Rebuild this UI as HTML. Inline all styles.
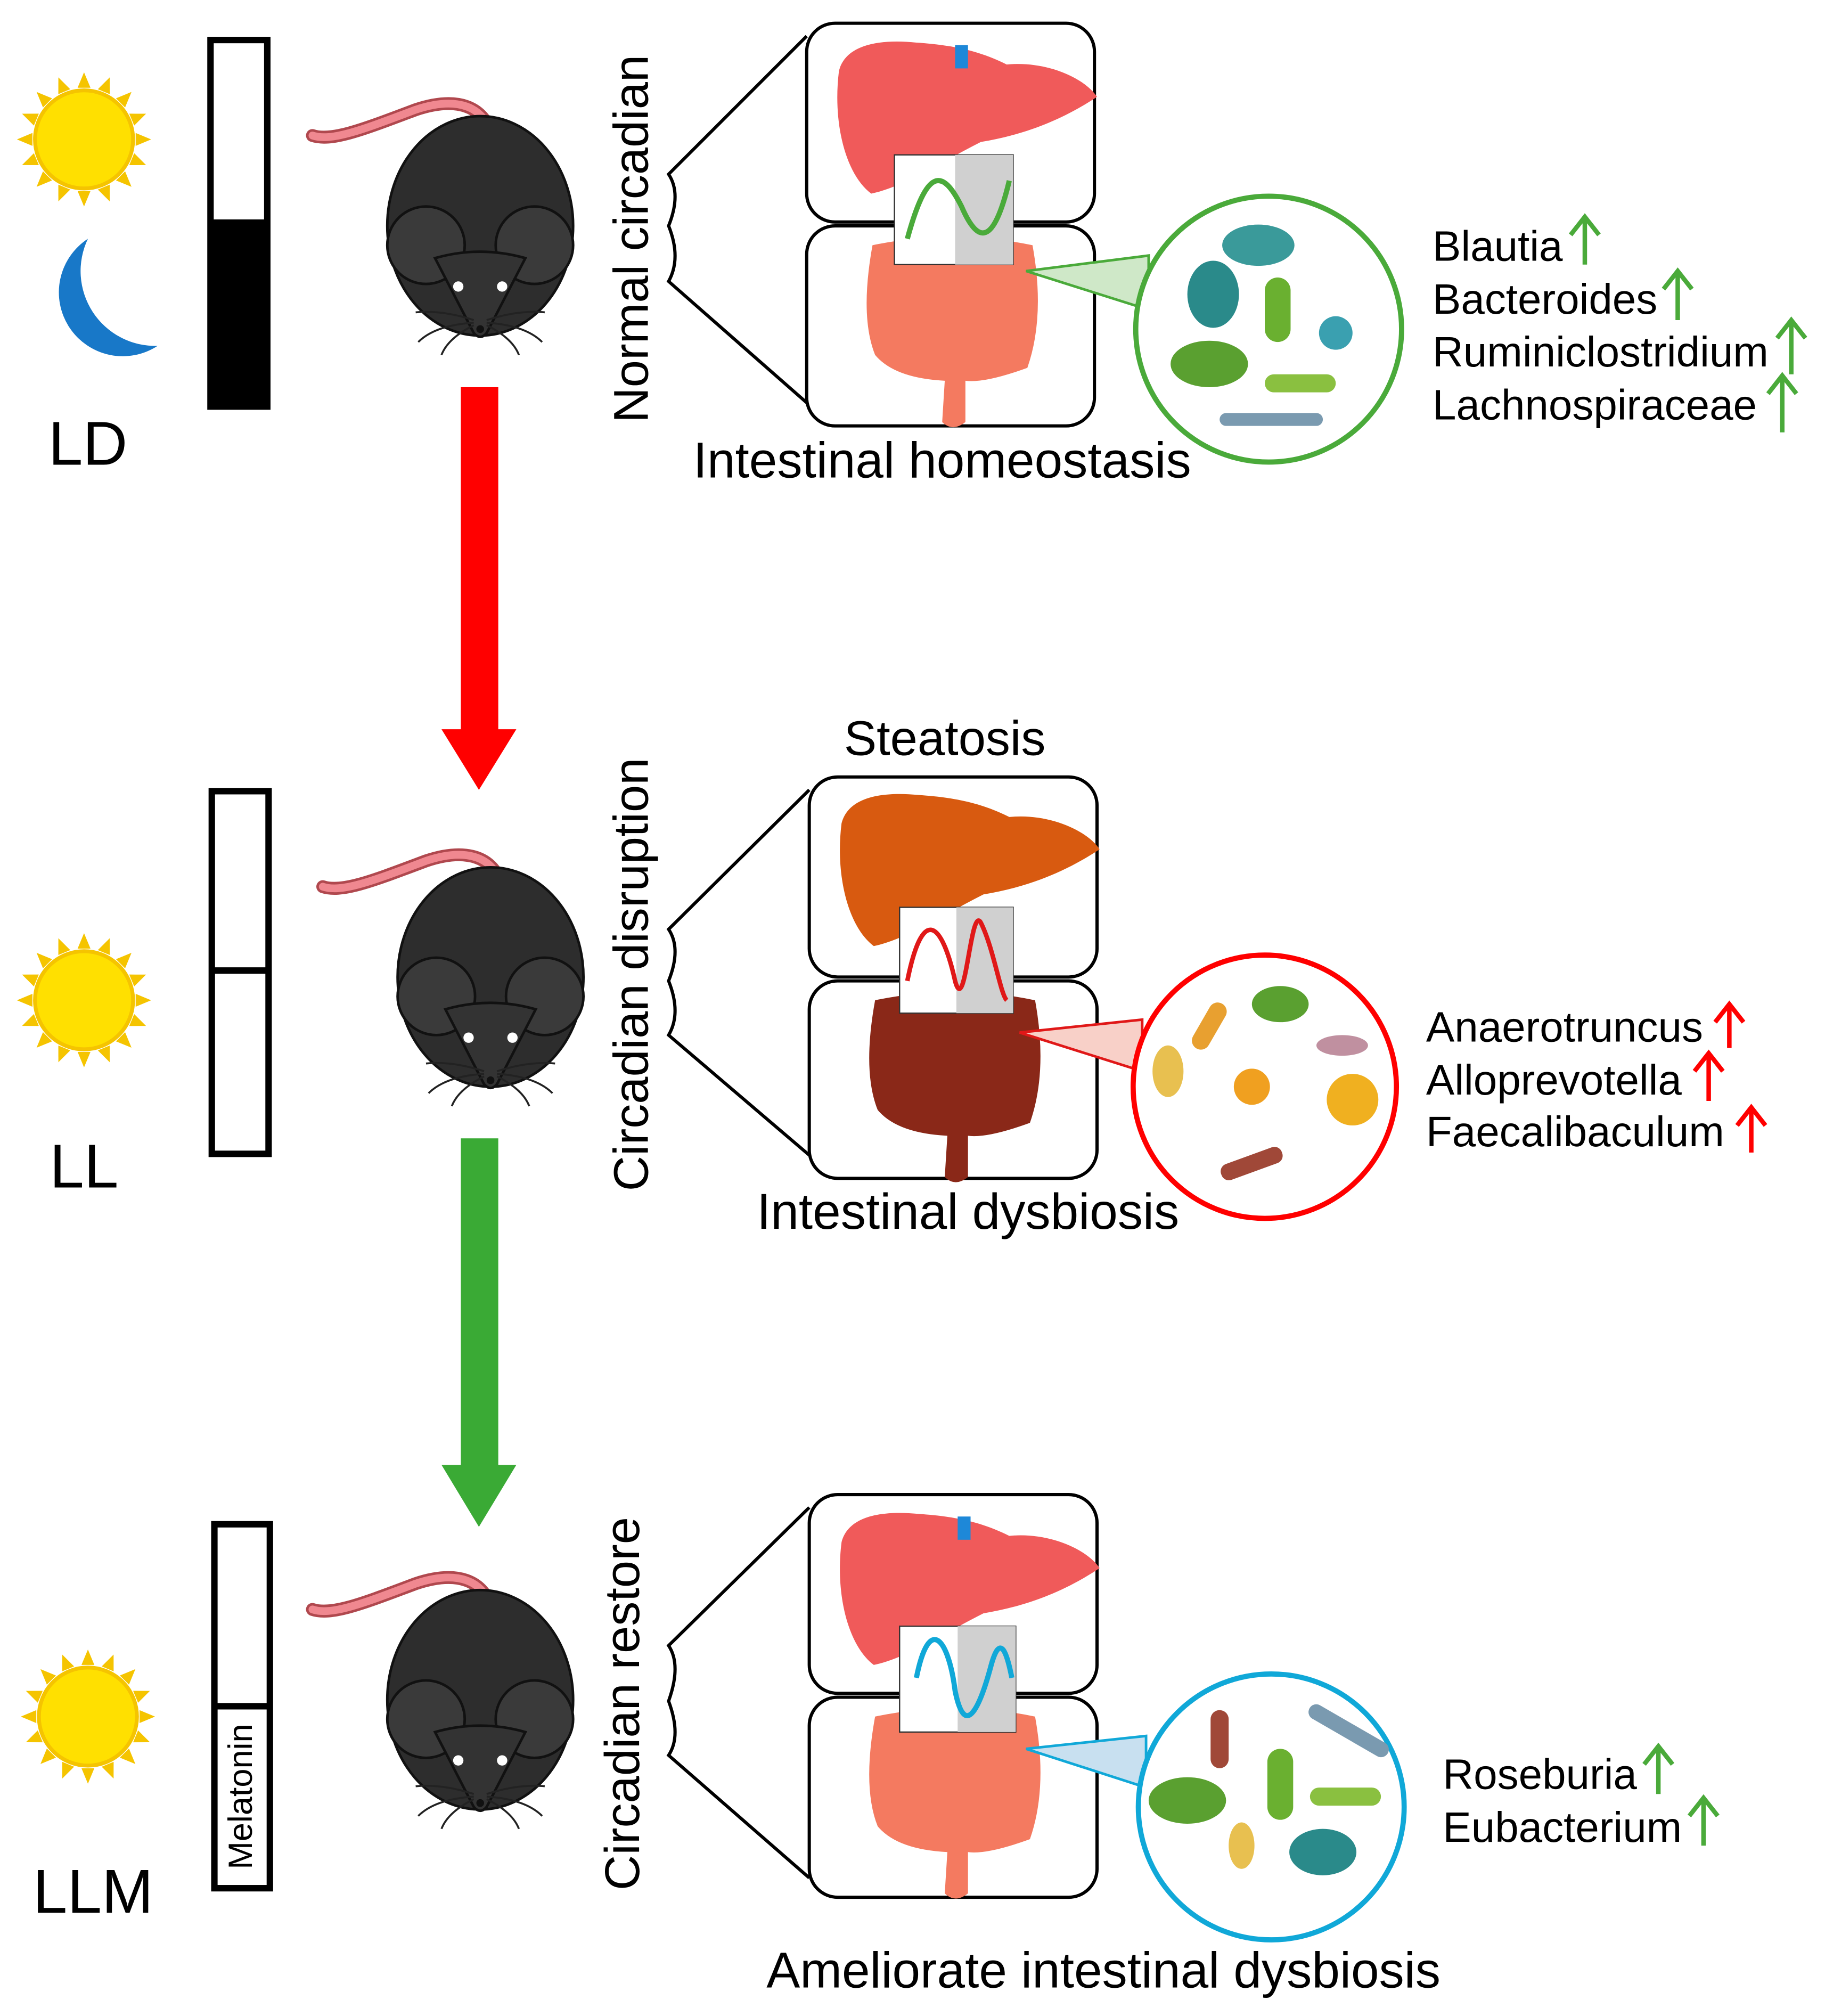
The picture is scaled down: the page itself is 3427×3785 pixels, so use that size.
<!DOCTYPE html>
<html><head><meta charset="utf-8"><style>html,body{margin:0;padding:0;background:#fff}svg{display:block}</style></head>
<body>
<svg xmlns="http://www.w3.org/2000/svg" width="3427" height="3785" viewBox="0 0 1414 1562" font-family="Liberation Sans, Arial, sans-serif">
<defs>
<g id="sun">
  <g fill="#f5c400">
    <polygon points="0,-52 5,-40 -5,-40"/><polygon points="0,52 5,40 -5,40"/>
    <polygon points="-52,0 -40,5 -40,-5"/><polygon points="52,0 40,5 40,-5"/>
    <g transform="rotate(22.5)"><polygon points="0,-52 5,-40 -5,-40"/><polygon points="0,52 5,40 -5,40"/><polygon points="-52,0 -40,5 -40,-5"/><polygon points="52,0 40,5 40,-5"/></g>
    <g transform="rotate(45)"><polygon points="0,-52 5,-40 -5,-40"/><polygon points="0,52 5,40 -5,40"/><polygon points="-52,0 -40,5 -40,-5"/><polygon points="52,0 40,5 40,-5"/></g>
    <g transform="rotate(67.5)"><polygon points="0,-52 5,-40 -5,-40"/><polygon points="0,52 5,40 -5,40"/><polygon points="-52,0 -40,5 -40,-5"/><polygon points="52,0 40,5 40,-5"/></g>
  </g>
  <circle r="38" fill="#ffe000" stroke="#f5c400" stroke-width="3"/>
</g>
<g id="mouse">
  <path d="M10,-70 C5,-100 -20,-105 -50,-95 C-90,-80 -115,-70 -130,-75" fill="none" stroke="#b0484e" stroke-width="10" stroke-linecap="round"/>
  <path d="M10,-70 C5,-100 -20,-105 -50,-95 C-90,-80 -115,-70 -130,-75" fill="none" stroke="#f08890" stroke-width="6" stroke-linecap="round"/>
  <ellipse cx="0" cy="-5" rx="72" ry="85" fill="#2d2d2d" stroke="#111" stroke-width="2"/>
  <ellipse cx="-42" cy="10" rx="30" ry="30" fill="#3a3a3a" stroke="#111" stroke-width="2"/>
  <ellipse cx="42" cy="10" rx="30" ry="30" fill="#3a3a3a" stroke="#111" stroke-width="2"/>
  <path d="M-35,20 Q0,10 35,20 L5,78 Q0,84 -5,78 Z" fill="#333" stroke="#111" stroke-width="2"/>
  <circle cx="-17" cy="42" r="4" fill="#fff"/><circle cx="17" cy="42" r="4" fill="#fff"/>
  <circle cx="0" cy="75" r="3" fill="#111"/>
  <g stroke="#222" stroke-width="1.5" fill="none">
    <path d="M-5,68 Q-30,60 -50,62"/><path d="M-5,70 Q-35,72 -48,85"/><path d="M-5,72 Q-25,82 -30,95"/>
    <path d="M5,68 Q30,60 50,62"/><path d="M5,70 Q35,72 48,85"/><path d="M5,72 Q25,82 30,95"/>
  </g>
</g>
<g id="liver">
  <path d="M0,20 C5,0 30,-5 60,-2 C90,0 110,5 130,15 C160,12 190,25 200,40 C170,60 140,70 110,75 C80,90 50,110 25,115 C5,100 -5,60 0,20 Z"/>
</g>
<g id="gut">
  <path d="M-62,-55 Q0,-68 62,-55 Q72,0 58,40 Q25,52 10,50 L10,82 Q0,90 -8,82 L-6,50 Q-45,48 -60,30 Q-72,0 -62,-55 Z"/>
</g>
</defs>

<!-- ROW 1 -->
<use href="#sun" x="65" y="108"/>
<path d="M68,185 A48,48 0 1 0 122,268 A58,58 0 0 1 68,185 Z" fill="#1878c8"/>
<rect x="163" y="31" width="44" height="284" fill="#fff" stroke="#000" stroke-width="5"/>
<rect x="163" y="170" width="44" height="145" fill="#000"/>
<text x="68" y="360" font-size="48" text-anchor="middle">LD</text>
<use href="#mouse" x="372" y="180"/>
<rect x="357" y="300" width="29" height="267" fill="#f00"/>
<polygon points="342,565 400,565 371,612" fill="#f00"/>

<text transform="translate(502,185) rotate(-90)" font-size="38" text-anchor="middle">Normal circadian</text>
<path d="M625,28 L518,135 Q528,150 518,175 Q528,200 518,218 L625,312" fill="none" stroke="#000" stroke-width="2.5"/>
<rect x="625" y="18" width="223" height="154" rx="22" fill="#fff" stroke="#000" stroke-width="2.5"/>
<rect x="625" y="175" width="223" height="155" rx="22" fill="#fff" stroke="#000" stroke-width="2.5"/>
<use href="#liver" x="650" y="35" fill="#f05a5a"/>
<rect x="740" y="35" width="10" height="18" fill="#1e88d8"/>
<use href="#gut" x="738" y="245" fill="#f47a60"/>
<rect x="693" y="120" width="92" height="85" fill="#fff" stroke="#333" stroke-width="1"/>
<rect x="740" y="120" width="45" height="85" fill="#d0d0d0"/>
<path d="M703,185 C718,130 730,130 745,160 C758,190 770,190 782,140" fill="none" stroke="#4aaa3a" stroke-width="4"/>
<polygon points="795,210 890,198 890,240" fill="#cfe8c8" stroke="#4aaa3a" stroke-width="2"/>
<circle cx="983" cy="255" r="103" fill="#fff" stroke="#4aaa3a" stroke-width="4"/>
<ellipse cx="975" cy="190" rx="28" ry="16" fill="#3a9a9a"/>
<ellipse cx="940" cy="228" rx="20" ry="26" fill="#2a8a8a"/>
<rect x="980" y="215" width="20" height="50" rx="10" fill="#6ab030"/>
<ellipse cx="937" cy="282" rx="30" ry="18" fill="#5aa030"/>
<rect x="980" y="290" width="55" height="14" rx="7" fill="#8ac040"/>
<circle cx="1035" cy="258" r="13" fill="#3aa0b0"/>
<rect x="945" y="320" width="80" height="10" rx="5" fill="#7a9ab0"/>
<g font-size="33" fill="#000">
<text x="1110" y="202">Blautia</text>
<text x="1110" y="243">Bacteroides</text>
<text x="1110" y="284">Ruminiclostridium</text>
<text x="1110" y="325">Lachnospiraceae</text>
</g>
<g stroke="#4aaa3a" stroke-width="3.5" fill="none">
<path d="M1228,205 V170 M1217,182 L1228,168 L1239,182"/>
<path d="M1300,248 V212 M1289,224 L1300,210 L1311,224"/>
<path d="M1388,290 V250 M1377,262 L1388,248 L1399,262"/>
<path d="M1381,335 V293 M1370,305 L1381,291 L1392,305"/>
</g>
<text x="730" y="370" font-size="39" text-anchor="middle">Intestinal homeostasis</text>

<!-- ROW 2 -->
<use href="#sun" x="65" y="775"/>
<rect x="164" y="613" width="44" height="281" fill="#fff" stroke="#000" stroke-width="5"/>
<line x1="164" y1="752" x2="208" y2="752" stroke="#000" stroke-width="5"/>
<text x="65" y="920" font-size="48" text-anchor="middle">LL</text>
<use href="#mouse" x="380" y="762"/>
<rect x="357" y="882" width="29" height="255" fill="#3aaa35"/>
<polygon points="342,1135 400,1135 371,1183" fill="#3aaa35"/>

<text transform="translate(502,755) rotate(-90)" font-size="38" text-anchor="middle">Circadian disruption</text>
<path d="M627,612 L518,720 Q528,735 518,760 Q528,785 518,802 L627,895" fill="none" stroke="#000" stroke-width="2.5"/>
<text x="732" y="585" font-size="38" text-anchor="middle">Steatosis</text>
<rect x="627" y="602" width="223" height="155" rx="22" fill="#fff" stroke="#000" stroke-width="2.5"/>
<rect x="627" y="760" width="223" height="153" rx="22" fill="#fff" stroke="#000" stroke-width="2.5"/>
<use href="#liver" x="652" y="618" fill="#d85a10"/>
<use href="#gut" x="740" y="830" fill="#8a2818"/>
<rect x="697" y="703" width="88" height="82" fill="#fff" stroke="#333" stroke-width="1"/>
<rect x="741" y="703" width="44" height="82" fill="#d0d0d0"/>
<path d="M703,760 C715,700 730,715 740,760 C748,790 752,700 760,715 C770,735 775,770 780,775" fill="none" stroke="#e01818" stroke-width="3.5"/>
<polygon points="790,800 885,790 885,830" fill="#f8d0c8" stroke="#e01818" stroke-width="2"/>
<circle cx="980" cy="842" r="102" fill="#fff" stroke="#f00" stroke-width="4"/>
<ellipse cx="992" cy="778" rx="22" ry="14" fill="#5aa030"/>
<rect x="930" y="775" width="14" height="40" rx="7" fill="#e8a030" transform="rotate(30 937 795)"/>
<ellipse cx="905" cy="830" rx="12" ry="20" fill="#e8c050"/>
<circle cx="970" cy="842" r="14" fill="#f0a020"/>
<circle cx="1048" cy="852" r="20" fill="#f0b020"/>
<rect x="945" y="895" width="50" height="13" rx="6" fill="#a04838" transform="rotate(-20 970 902)"/>
<ellipse cx="1040" cy="810" rx="20" ry="8" fill="#c090a0"/>
<g font-size="33" fill="#000">
<text x="1105" y="807">Anaerotruncus</text>
<text x="1105" y="848">Alloprevotella</text>
<text x="1105" y="888">Faecalibaculum</text>
</g>
<g stroke="#f00" stroke-width="3.5" fill="none">
<path d="M1340,812 V780 M1329,792 L1340,778 L1351,792"/>
<path d="M1324,853 V818 M1313,830 L1324,816 L1335,830"/>
<path d="M1357,893 V860 M1346,872 L1357,858 L1368,872"/>
</g>
<text x="750" y="952" font-size="39" text-anchor="middle">Intestinal dysbiosis</text>

<!-- ROW 3 -->
<use href="#sun" x="68" y="1330"/>
<rect x="166" y="1181" width="43" height="282" fill="#fff" stroke="#000" stroke-width="5"/>
<line x1="166" y1="1322" x2="209" y2="1322" stroke="#000" stroke-width="5"/>
<text transform="translate(195,1392) rotate(-90)" font-size="26" text-anchor="middle">Melatonin</text>
<text x="72" y="1482" font-size="48" text-anchor="middle">LLM</text>
<use href="#mouse" x="372" y="1322"/>

<text transform="translate(495,1320) rotate(-90)" font-size="38" text-anchor="middle">Circadian restore</text>
<path d="M627,1168 L518,1275 Q528,1290 518,1318 Q528,1345 518,1360 L627,1455" fill="none" stroke="#000" stroke-width="2.5"/>
<rect x="627" y="1158" width="223" height="154" rx="22" fill="#fff" stroke="#000" stroke-width="2.5"/>
<rect x="627" y="1315" width="223" height="155" rx="22" fill="#fff" stroke="#000" stroke-width="2.5"/>
<use href="#liver" x="652" y="1175" fill="#f05a5a"/>
<rect x="742" y="1175" width="10" height="18" fill="#1e88d8"/>
<use href="#gut" x="740" y="1385" fill="#f47a60"/>
<rect x="697" y="1260" width="90" height="82" fill="#fff" stroke="#333" stroke-width="1"/>
<rect x="742" y="1260" width="45" height="82" fill="#d0d0d0"/>
<path d="M710,1300 C720,1250 735,1270 740,1310 C748,1350 760,1320 768,1290 C775,1265 780,1280 784,1300" fill="none" stroke="#10a8d8" stroke-width="4"/>
<polygon points="795,1355 888,1345 888,1385" fill="#c8e0f0" stroke="#10a8d8" stroke-width="2"/>
<circle cx="985" cy="1400" r="103" fill="#fff" stroke="#10a8d8" stroke-width="4"/>
<rect x="938" y="1325" width="14" height="45" rx="7" fill="#a04838"/>
<ellipse cx="920" cy="1395" rx="30" ry="18" fill="#5aa030"/>
<rect x="982" y="1355" width="20" height="55" rx="10" fill="#6ab030"/>
<rect x="1015" y="1385" width="55" height="14" rx="7" fill="#8ac040"/>
<ellipse cx="1025" cy="1435" rx="26" ry="18" fill="#2a8a8a"/>
<ellipse cx="962" cy="1430" rx="10" ry="18" fill="#e8c050"/>
<rect x="1010" y="1335" width="70" height="12" rx="6" fill="#7a9ab0" transform="rotate(30 1045 1341)"/>
<g font-size="33" fill="#000">
<text x="1118" y="1386">Roseburia</text>
<text x="1118" y="1427">Eubacterium</text>
</g>
<g stroke="#4aaa3a" stroke-width="3.5" fill="none">
<path d="M1285,1390 V1355 M1274,1367 L1285,1353 L1296,1367"/>
<path d="M1320,1430 V1395 M1309,1407 L1320,1393 L1331,1407"/>
</g>
<text x="855" y="1540" font-size="39" text-anchor="middle">Ameliorate intestinal dysbiosis</text>
</svg>
</body></html>
